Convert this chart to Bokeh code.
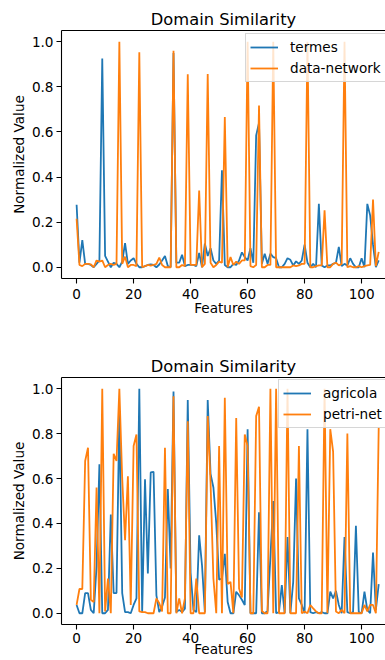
from bokeh.plotting import figure
from bokeh.layouts import column
from bokeh.models import FixedTicker, LinearAxis, Legend, LegendItem, Range1d, PrintfTickFormatter
from bokeh.embed import file_html
from bokeh.resources import INLINE

features = list(range(107))

termes = [0.277, 0.02, 0.12, 0.015, 0.015, 0.01, 0.0, 0.015, 0.03, 0.926,
          0.05, 0.025, 0.0, 0.02, 0.015, 0.0, 0.025, 0.107, 0.015, 0.03,
          0.04, 0.015, 0.0, 0.0, 0.005, 0.01, 0.013, 0.01, 0.0, 0.012,
          0.03, 0.05, 0.005, 0.0, 0.95, 0.02, 0.02, 0.055, 0.005, 0.01,
          0.01, 0.01, 0.005, 0.063, 0.0, 0.105, 0.05, 0.084, 0.03, 0.015,
          0.03, 0.43, 0.01, 0.0, 0.0, 0.015, 0.01, 0.03, 0.066, 0.045,
          0.03, 0.084, 0.02, 0.585, 0.64, 0.015, 0.06, 0.015, 0.06, 0.045,
          0.04, 0.0, 0.0, 0.015, 0.04, 0.033, 0.008, 0.026, 0.015, 0.03,
          0.1, 0.02, 0.0, 0.015, 0.0, 0.281, 0.008, 0.0, 0.008, 0.008,
          0.015, 0.02, 0.09, 0.005, 0.015, 0.008, 0.04, 0.015, 0.0, 0.0,
          0.04, 0.0, 0.281, 0.23, 0.1, 0.0, 0.03]

data_network = [0.215, 0.01, 0.005, 0.015, 0.015, 0.013, 0.0, 0.03, 0.025, 0.03,
                0.0, 0.01, 0.015, 0.01, 0.015, 1.0, 0.015, 0.047, 0.0, 0.01,
                0.01, 0.005, 0.953, 0.0, 0.005, 0.01, 0.007, 0.01, 0.015, 0.043,
                0.01, 0.0, 0.0, 0.0, 0.96, 0.0, 0.0, 0.01, 0.005, 0.856,
                0.01, 0.01, 0.01, 0.34, 0.0, 0.015, 0.857, 0.02, 0.0, 0.01,
                0.025, 0.02, 0.666, 0.0, 0.045, 0.01, 0.025, 0.015, 0.03, 0.03,
                1.0, 0.005, 0.0, 0.01, 0.717, 0.0, 0.0, 0.01, 0.01, 1.0,
                0.0, 0.0, 0.0, 0.0, 0.0, 0.0, 0.008, 0.005, 0.008, 0.015,
                0.015, 1.0, 0.0, 0.0, 0.005, 0.008, 0.008, 0.252, 0.0, 0.0,
                0.015, 0.02, 0.008, 0.015, 1.0, 0.0, 0.005, 0.0, 0.0, 0.005,
                0.0, 0.005, 0.008, 0.01, 0.3, 0.005, 0.068]

agricola = [0.037, 0.0, 0.0, 0.09, 0.09, 0.015, 0.0, 0.21, 0.664, 0.0,
            0.0, 0.015, 0.44, 0.09, 0.09, 0.9, 0.09, 0.005, 0.005, 0.0,
            0.037, 0.066, 1.0, 0.005, 0.597, 0.177, 0.627, 0.63, 0.08, 0.005,
            0.03, 0.07, 0.553, 0.2, 0.988, 0.005, 0.015, 0.005, 0.02, 0.95,
            0.18, 0.015, 0.005, 0.347, 0.214, 0.005, 0.95, 0.62, 0.56, 0.4,
            0.15, 0.155, 0.265, 0.05, 0.0, 0.0, 0.096, 0.08, 0.06, 0.037,
            0.82, 0.0, 0.0, 0.0, 0.45, 0.0, 0.0, 0.01, 0.25, 0.5,
            0.0, 0.005, 0.125, 0.0, 0.34, 0.0, 0.14, 0.6, 0.066, 0.037,
            0.0, 0.82, 0.005, 0.0, 0.005, 0.0, 0.005, 0.0, 0.0, 0.096,
            0.066, 0.1, 0.037, 0.0, 0.34, 0.005, 0.0, 0.005, 0.39, 0.005,
            0.0, 0.096, 0.015, 0.0, 0.27, 0.015, 0.13]

petri_net = [0.037, 0.108, 0.108, 0.678, 0.737, 0.06, 0.05, 0.56, 0.0, 1.0,
             0.008, 0.155, 0.0, 0.71, 0.678, 1.0, 0.6, 0.325, 0.61, 0.037,
             0.745, 0.796, 0.008, 0.005, 0.005, 0.0, 0.0, 0.0, 0.066, 0.045,
             0.008, 0.737, 0.0, 0.0, 0.966, 0.0, 0.066, 0.0, 0.066, 0.855,
             0.0, 0.0, 0.155, 0.0, 0.0, 0.0, 0.878, 0.58, 0.155, 0.0,
             0.745, 0.0, 0.96, 0.13, 0.14, 0.0, 0.87, 0.11, 0.07, 0.796,
             0.745, 0.0, 0.0, 0.878, 0.92, 0.01, 0.0, 0.0, 1.0, 0.0,
             1.0, 0.0, 0.0, 0.0, 1.0, 0.0, 0.0, 0.0, 0.745, 0.0,
             0.008, 0.0, 0.037, 0.022, 0.008, 0.0, 0.0, 1.0, 0.0, 0.82,
             0.72, 0.008, 0.0, 0.015, 0.0, 0.8, 0.0, 0.0, 0.0, 0.0,
             0.0, 0.037, 0.008, 0.037, 0.037, 0.0, 0.83]

x_ticks = [0, 20, 40, 60, 80, 100]
y_ticks = [0.0, 0.2, 0.4, 0.6, 0.8, 1.0]

BLUE = "#1f77b4"
ORANGE = "#ff7f0e"
FONT = "DejaVu Sans"


def make_fig(height, border_top, border_bottom, title_standoff, tick_standoff,
             label_standoff, a, b, name_a, name_b, loc):
    p = figure(width=385, height=height, output_backend="svg", toolbar_location=None,
               x_range=Range1d(-5.3, 108.38), y_range=Range1d(-0.05, 1.05),
               title="Domain Similarity",
               min_border_left=61, min_border_right=0, min_border_top=border_top,
               min_border_bottom=border_bottom)
    p.title.text_font = FONT
    p.title.text_font_size = "16.3px"
    p.title.text_font_style = "normal"
    p.title.text_color = "black"
    p.title.align = "center"
    p.title.offset = 5
    p.title.standoff = title_standoff
    p.xgrid.visible = False
    p.ygrid.visible = False
    p.outline_line_color = None
    p.background_fill_color = "white"
    p.border_fill_color = "white"

    p.xaxis.ticker = FixedTicker(ticks=x_ticks)
    p.yaxis.ticker = FixedTicker(ticks=y_ticks)
    p.yaxis.formatter = PrintfTickFormatter(format="%.1f")
    for ax in (p.xaxis[0], p.yaxis[0]):
        ax.axis_line_color = "black"
        ax.axis_line_width = 1.1
        ax.major_tick_line_color = "black"
        ax.major_tick_line_width = 1.1
        ax.major_tick_in = 0
        ax.major_tick_out = 5
        ax.minor_tick_line_color = None
        ax.major_label_text_font = FONT
        ax.major_label_text_font_size = "13.6px"
        ax.major_label_text_color = "black"
        ax.axis_label_text_font = FONT
        ax.axis_label_text_font_size = "13.6px"
        ax.axis_label_text_font_style = "normal"
        ax.axis_label_text_color = "black"
    p.xaxis.axis_label = "Features"
    p.yaxis.axis_label = "Normalized Value"
    p.xaxis.major_label_standoff = tick_standoff
    p.xaxis.axis_label_standoff = label_standoff
    p.yaxis.major_label_standoff = 3
    p.yaxis.axis_label_standoff = 2

    top = LinearAxis(ticker=FixedTicker(ticks=[]), axis_line_color="black",
                     axis_line_width=1.1, major_tick_line_color=None,
                     minor_tick_line_color=None, major_label_text_font_size="0px",
                     major_tick_out=0, major_label_standoff=0)
    p.add_layout(top, "above")

    r1 = p.line(features, a, line_color=BLUE, line_width=1.8)
    r2 = p.line(features, b, line_color=ORANGE, line_width=1.8)

    legend = Legend(items=[LegendItem(label=name_a, renderers=[r1]),
                           LegendItem(label=name_b, renderers=[r2])],
                    location=loc, orientation="vertical",
                    label_text_font=FONT, label_text_font_size="13.6px",
                    label_text_color="black",
                    glyph_width=28, glyph_height=18, label_height=18,
                    spacing=3, padding=4, margin=0, label_standoff=12,
                    border_line_color="#cccccc", border_line_alpha=0.8,
                    background_fill_color="white", background_fill_alpha=0.8)
    p.add_layout(legend)
    return p


p1 = make_fig(352, 30, 74, 4, 5, -2, termes, data_network, "termes", "data-network", (184, 196))
p2 = make_fig(308, 25, 36, 3, 3, -5, agricola, petri_net, "agricola", "petri-net", (217, 196))

layout = column(p1, p2, spacing=0)
open("out.html", "w").write(file_html(layout, INLINE))
